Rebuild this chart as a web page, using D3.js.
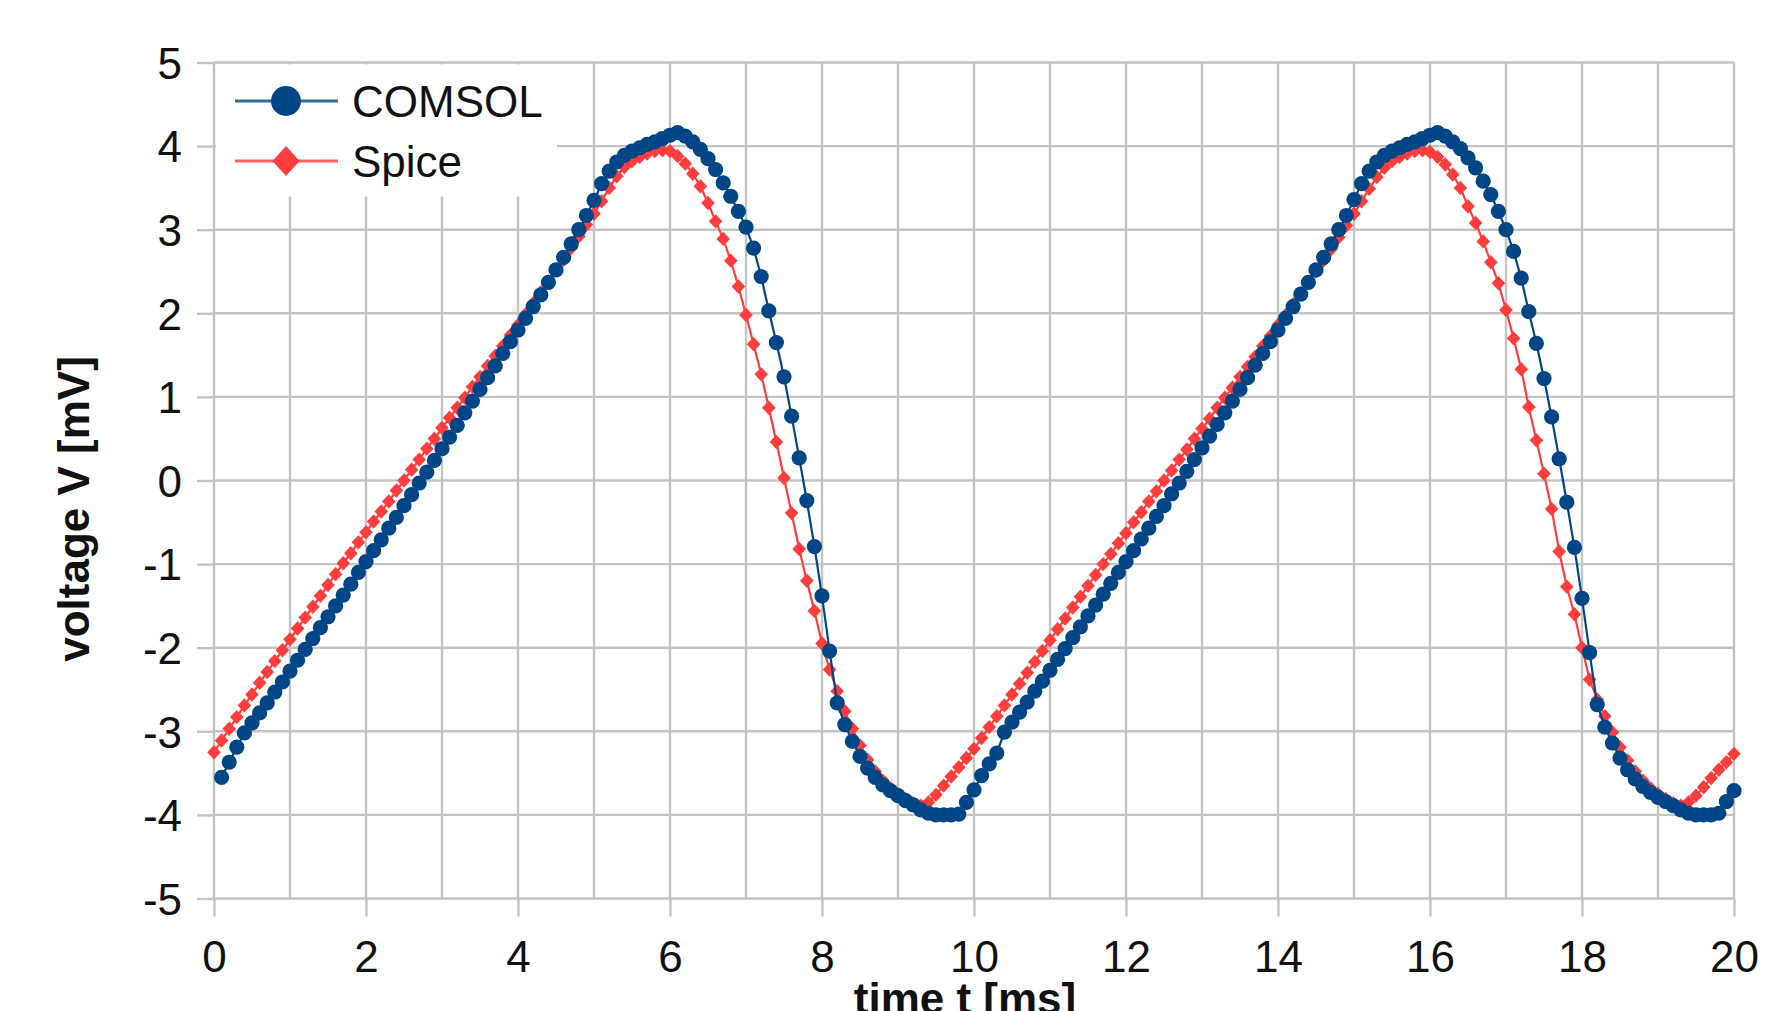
<!DOCTYPE html>
<html>
<head>
<meta charset="utf-8">
<script src="https://cdn.jsdelivr.net/npm/d3@7"></script>
<style>
  html, body { margin: 0; padding: 0; background: #ffffff; }
  svg { display: block; font-family: "Liberation Sans", Arial, Helvetica, sans-serif; }
</style>
</head>
<body>
<svg id="chart" width="1782" height="1011"></svg>
<script>
// Sample times in ms (0.1 ms step)
const timeMs = [
  0.0,0.1,0.2,0.3,0.4,0.5,0.6,0.7,0.8,0.9,1.0,1.1,1.2,1.3,1.4,1.5,1.6,1.7,1.8,1.9,
  2.0,2.1,2.2,2.3,2.4,2.5,2.6,2.7,2.8,2.9,3.0,3.1,3.2,3.3,3.4,3.5,3.6,3.7,3.8,3.9,
  4.0,4.1,4.2,4.3,4.4,4.5,4.6,4.7,4.8,4.9,5.0,5.1,5.2,5.3,5.4,5.5,5.6,5.7,5.8,5.9,
  6.0,6.1,6.2,6.3,6.4,6.5,6.6,6.7,6.8,6.9,7.0,7.1,7.2,7.3,7.4,7.5,7.6,7.7,7.8,7.9,
  8.0,8.1,8.2,8.3,8.4,8.5,8.6,8.7,8.8,8.9,9.0,9.1,9.2,9.3,9.4,9.5,9.6,9.7,9.8,9.9,
  10.0,10.1,10.2,10.3,10.4,10.5,10.6,10.7,10.8,10.9,11.0,11.1,11.2,11.3,11.4,11.5,11.6,11.7,11.8,11.9,
  12.0,12.1,12.2,12.3,12.4,12.5,12.6,12.7,12.8,12.9,13.0,13.1,13.2,13.3,13.4,13.5,13.6,13.7,13.8,13.9,
  14.0,14.1,14.2,14.3,14.4,14.5,14.6,14.7,14.8,14.9,15.0,15.1,15.2,15.3,15.4,15.5,15.6,15.7,15.8,15.9,
  16.0,16.1,16.2,16.3,16.4,16.5,16.6,16.7,16.8,16.9,17.0,17.1,17.2,17.3,17.4,17.5,17.6,17.7,17.8,17.9,
  18.0,18.1,18.2,18.3,18.4,18.5,18.6,18.7,18.8,18.9,19.0,19.1,19.2,19.3,19.4,19.5,19.6,19.7,19.8,19.9,
  20.0
];

// COMSOL voltage in mV (no sample at t = 0)
const comsolV = [
  null,-3.55,-3.37,-3.19,-3.02,-2.90,-2.78,-2.66,-2.53,-2.41,-2.28,-2.15,-2.02,-1.89,-1.76,-1.63,-1.50,-1.37,-1.24,-1.10,
  -0.97,-0.84,-0.71,-0.57,-0.44,-0.30,-0.17,-0.03,0.10,0.24,0.38,0.52,0.66,0.81,0.95,1.09,1.23,1.37,1.52,1.66,
  1.80,1.94,2.08,2.22,2.37,2.52,2.67,2.83,3.00,3.17,3.35,3.55,3.70,3.81,3.89,3.94,3.98,4.02,4.05,4.09,
  4.13,4.16,4.12,4.05,3.96,3.85,3.72,3.56,3.40,3.22,3.03,2.78,2.44,2.03,1.65,1.24,0.77,0.27,-0.24,-0.79,
  -1.38,-2.04,-2.66,-2.92,-3.12,-3.30,-3.44,-3.55,-3.64,-3.71,-3.77,-3.83,-3.88,-3.94,-3.98,-4.00,-4.00,-4.00,-3.99,-3.85,
  -3.70,-3.53,-3.39,-3.26,-3.01,-2.89,-2.77,-2.65,-2.52,-2.40,-2.27,-2.14,-2.01,-1.88,-1.75,-1.62,-1.49,-1.36,-1.23,-1.10,
  -0.97,-0.84,-0.70,-0.57,-0.43,-0.30,-0.16,-0.03,0.11,0.25,0.39,0.53,0.67,0.81,0.95,1.09,1.23,1.38,1.52,1.66,
  1.80,1.94,2.08,2.23,2.37,2.52,2.67,2.83,3.00,3.17,3.36,3.55,3.70,3.81,3.89,3.94,3.98,4.02,4.05,4.09,
  4.13,4.16,4.12,4.05,3.97,3.86,3.74,3.58,3.42,3.22,3.00,2.74,2.42,2.02,1.64,1.22,0.76,0.26,-0.26,-0.80,
  -1.41,-2.06,-2.68,-2.95,-3.14,-3.32,-3.46,-3.57,-3.66,-3.73,-3.79,-3.84,-3.89,-3.94,-3.98,-4.00,-4.00,-4.00,-3.98,-3.84,
  -3.71
];

// Spice voltage in mV
const spiceV = [
  -3.25,-3.11,-2.97,-2.83,-2.69,-2.56,-2.42,-2.29,-2.16,-2.03,-1.90,-1.77,-1.64,-1.51,-1.38,-1.25,-1.12,-0.99,-0.87,-0.74,
  -0.62,-0.49,-0.37,-0.25,-0.12,0.00,0.13,0.25,0.38,0.50,0.63,0.75,0.87,0.99,1.12,1.24,1.37,1.49,1.61,1.74,
  1.86,1.99,2.12,2.25,2.38,2.51,2.64,2.78,2.92,3.06,3.19,3.34,3.50,3.64,3.75,3.82,3.87,3.91,3.94,3.95,
  3.94,3.88,3.79,3.67,3.52,3.32,3.10,2.89,2.63,2.32,1.98,1.63,1.27,0.87,0.46,0.03,-0.39,-0.82,-1.20,-1.56,
  -1.95,-2.26,-2.52,-2.76,-2.97,-3.17,-3.34,-3.48,-3.59,-3.68,-3.75,-3.81,-3.86,-3.89,-3.85,-3.76,-3.65,-3.54,-3.43,-3.32,
  -3.21,-3.08,-2.95,-2.82,-2.69,-2.56,-2.43,-2.30,-2.17,-2.04,-1.91,-1.78,-1.65,-1.52,-1.39,-1.26,-1.13,-1.00,-0.88,-0.75,
  -0.63,-0.50,-0.38,-0.25,-0.13,0.00,0.12,0.25,0.37,0.50,0.62,0.74,0.87,0.99,1.11,1.24,1.36,1.48,1.61,1.73,
  1.86,1.98,2.11,2.24,2.37,2.50,2.63,2.77,2.91,3.05,3.19,3.34,3.49,3.63,3.74,3.82,3.87,3.91,3.94,3.95,
  3.93,3.87,3.78,3.66,3.50,3.28,3.08,2.86,2.61,2.36,2.04,1.70,1.33,0.88,0.48,0.08,-0.34,-0.85,-1.27,-1.60,
  -2.00,-2.38,-2.62,-2.82,-3.01,-3.19,-3.35,-3.48,-3.59,-3.68,-3.75,-3.81,-3.86,-3.89,-3.85,-3.77,-3.67,-3.56,-3.46,-3.37,
  -3.27
];

const xTickValues = [0, 2, 4, 6, 8, 10, 12, 14, 16, 18, 20];
const xGridValues = [0, 1, 2, 3, 4, 5, 6, 7, 8, 9, 10, 11, 12, 13, 14, 15, 16, 17, 18, 19, 20];
const yTickValues = [-5, -4, -3, -2, -1, 0, 1, 2, 3, 4, 5];
const seriesNames = ["COMSOL", "Spice"];
const xTitle = "time t [ms]";
const yTitle = "voltage V [mV]";

const BLUE = "#004586";
const RED = "#ff3d3d";
const GRID = "#c4c4c4";

const plot = { left: 214, right: 1734, top: 62.5, bottom: 898.5 };

const svg = d3.select("#chart");
svg.append("rect").attr("width", 1782).attr("height", 1011).attr("fill", "#ffffff");

const x = d3.scaleLinear().domain([0, 20]).range([plot.left, plot.right]);
const y = d3.scaleLinear().domain([-5, 5]).range([plot.bottom, plot.top]);

// Grid lines
const grid = svg.append("g").attr("stroke", GRID).attr("stroke-width", 2.4);
grid.selectAll("line.v").data(xGridValues).join("line")
  .attr("class", "v")
  .attr("x1", d => x(d)).attr("x2", d => x(d))
  .attr("y1", plot.top).attr("y2", plot.bottom);
grid.selectAll("line.h").data(yTickValues).join("line")
  .attr("class", "h")
  .attr("x1", plot.left).attr("x2", plot.right)
  .attr("y1", d => y(d)).attr("y2", d => y(d));

const fmt = d => String(d); // plain hyphen for negatives

// X axis
const xAxis = svg.append("g")
  .attr("transform", `translate(0,${plot.bottom})`)
  .call(d3.axisBottom(x).tickValues(xTickValues).tickSize(18).tickFormat(fmt));
xAxis.select(".domain").remove();
xAxis.selectAll(".tick line").attr("stroke", GRID).attr("stroke-width", 2.4);
xAxis.selectAll(".tick text")
  .attr("y", 73.5).attr("dy", null)
  .attr("fill", "#111").attr("font-size", 44)
  .attr("font-family", "'Liberation Sans', Arial, sans-serif");

// Y axis
const yAxis = svg.append("g")
  .attr("transform", `translate(${plot.left},0)`)
  .call(d3.axisLeft(y).tickValues(yTickValues).tickSize(17).tickPadding(15).tickFormat(fmt));
yAxis.select(".domain").remove();
yAxis.selectAll(".tick line").attr("stroke", GRID).attr("stroke-width", 2.4);
yAxis.selectAll(".tick text")
  .attr("dy", "0.36em")
  .attr("fill", "#111").attr("font-size", 44)
  .attr("font-family", "'Liberation Sans', Arial, sans-serif");

// Axis titles
svg.append("text")
  .attr("x", 965).attr("y", 1014)
  .attr("text-anchor", "middle")
  .attr("font-size", 44).attr("font-weight", "bold").attr("fill", "#111")
  .text(xTitle);
svg.append("text")
  .attr("transform", "translate(89,509) rotate(-90)")
  .attr("text-anchor", "middle")
  .attr("font-size", 44).attr("font-weight", "bold").attr("fill", "#111")
  .text(yTitle);

// Series data
const comsol = timeMs.map((t, i) => ({ t, v: comsolV[i] })).filter(d => d.v !== null);
const spice = timeMs.map((t, i) => ({ t, v: spiceV[i] }));

const line = d3.line().x(d => x(d.t)).y(d => y(d.v));
const diamond = (w, h) => `M0,${-h}L${w},0L0,${h}L${-w},0Z`;

// Spice series
svg.append("path").datum(spice)
  .attr("fill", "none").attr("stroke", RED).attr("stroke-width", 2.2)
  .attr("d", line);
svg.append("g").selectAll("path").data(spice).join("path")
  .attr("transform", d => `translate(${x(d.t)},${y(d.v)})`)
  .attr("d", diamond(6.8, 7.2))
  .attr("fill", RED);

// COMSOL series
svg.append("path").datum(comsol)
  .attr("fill", "none").attr("stroke", BLUE).attr("stroke-width", 2.2)
  .attr("d", line);
svg.append("g").selectAll("circle").data(comsol).join("circle")
  .attr("cx", d => x(d.t)).attr("cy", d => y(d.v))
  .attr("r", 7.6)
  .attr("fill", BLUE);

// Legend
const legend = svg.append("g");
legend.append("rect")
  .attr("x", plot.left + 2).attr("y", plot.top + 2)
  .attr("width", 341).attr("height", 132)
  .attr("fill", "#ffffff");
const legendRows = [
  { name: seriesNames[0], color: BLUE, cy: 101, marker: "circle" },
  { name: seriesNames[1], color: RED, cy: 161, marker: "diamond" }
];
legendRows.forEach(r => {
  legend.append("line")
    .attr("x1", 235).attr("x2", 338).attr("y1", r.cy).attr("y2", r.cy)
    .attr("stroke", r.color).attr("stroke-width", 3).attr("stroke-opacity", 0.8);
  if (r.marker === "circle") {
    legend.append("circle").attr("cx", 286).attr("cy", r.cy).attr("r", 15).attr("fill", r.color);
  } else {
    legend.append("path").attr("transform", `translate(286,${r.cy})`)
      .attr("d", diamond(13.5, 15)).attr("fill", r.color);
  }
  legend.append("text")
    .attr("x", 352).attr("y", r.cy + 16)
    .attr("font-size", 44).attr("fill", "#111")
    .text(r.name);
});
</script>
</body>
</html>
